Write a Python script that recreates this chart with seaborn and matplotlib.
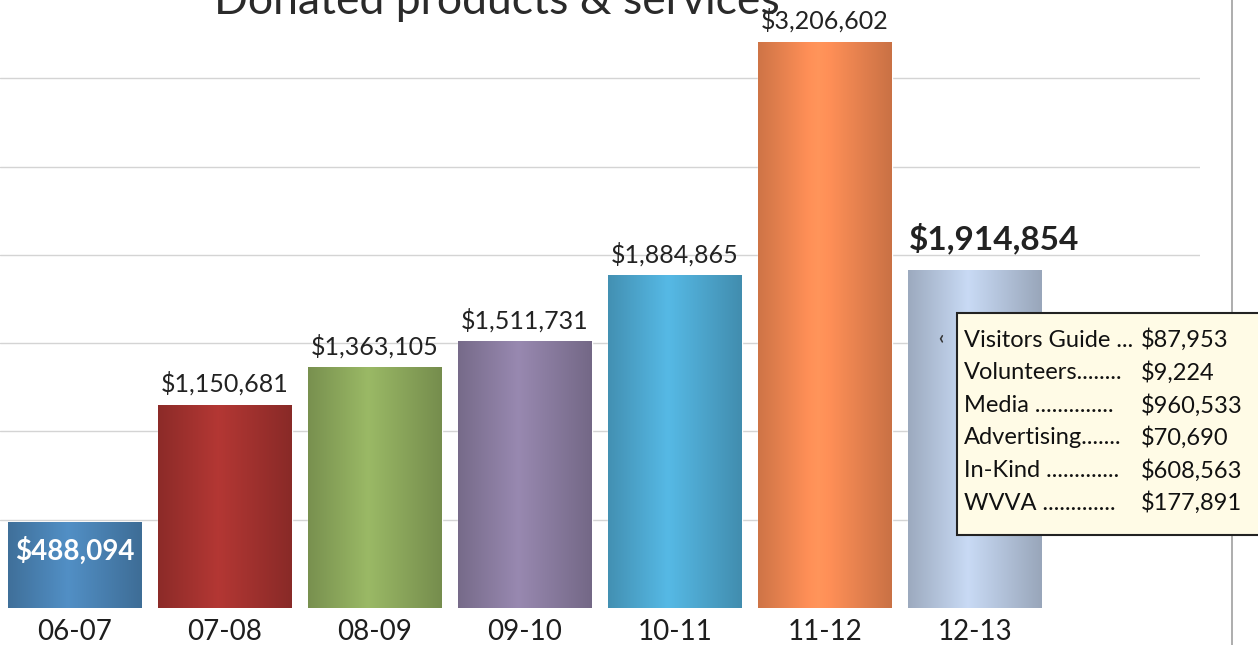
import numpy as np
import pandas as pd
import matplotlib
matplotlib.use("Agg")
import matplotlib.pyplot as plt
import matplotlib.colors as mcolors
import seaborn as sns

# ---- data ----
seasons = ["06-07", "07-08", "08-09", "09-10", "10-11", "11-12", "12-13"]
totals = [488094, 1150681, 1363105, 1511731, 1884865, 3206602, 1914854]
bar_colors = ["#4a82b3", "#a3322f", "#8ca85c", "#8a7ca0", "#4ea8d0", "#f08752", "#b6c6de"]
breakdown_labels = ["Visitors Guide ...", "Volunteers........", "Media ..............",
                    "Advertising.......", "In-Kind .............", "WVVA ............."]
breakdown_values = ["$87,953", "$9,224", "$960,533", "$70,690", "$608,563", "$177,891"]
title = "Donated products & services"

sns.set_theme(style="white")
plt.rcParams["font.family"] = ["Lato", "DejaVu Sans"]

df = pd.DataFrame({"season": seasons, "total": totals})

fig = plt.figure(figsize=(12.58, 6.45), dpi=100)
ax = fig.add_axes([0.0, 37 / 645, 1200 / 1258, 608 / 645])

sns.barplot(data=df, x="season", y="total", hue="season", palette=bar_colors,
            legend=False, width=0.89, saturation=1, ax=ax)

ax.set_ylim(0, 3.443e6)
ax.set_xlim(-0.5, 7.5)
ax.set_yticks(np.arange(500000, 3000001, 500000))
ax.yaxis.grid(True, color="#d4d4d4", linewidth=1.0)
ax.set_axisbelow(True)
ax.set_ylabel("")
ax.set_xlabel("")
ax.tick_params(axis="y", left=False, labelleft=False)
ax.tick_params(axis="x", bottom=False, labelsize=20, pad=2, labelcolor="#1e1e1e")
for s in ax.spines.values():
    s.set_visible(False)

# cylinder-like shading on bars
shade = np.concatenate([np.linspace(0.86, 1.10, 45), np.linspace(1.10, 0.84, 55)])
for patch, col in zip(ax.patches, bar_colors):
    rgb = np.array(mcolors.to_rgb(col))
    img = np.clip(shade[:, None] * rgb[None, :], 0, 1)[None, :, :]
    x0, y0 = patch.get_x(), patch.get_y()
    w, h = patch.get_width(), patch.get_height()
    im = ax.imshow(img, extent=[x0, x0 + w, y0, y0 + h], aspect="auto",
                   zorder=patch.get_zorder() + 0.1, interpolation="bilinear")
    im.set_clip_path(patch)

# value labels
for i, (patch, v) in enumerate(zip(ax.patches, totals)):
    cx = patch.get_x() + patch.get_width() / 2
    txt = f"${v:,}"
    if i == 0:
        ax.text(cx, v - 0.165e6, txt, ha="center", va="center", fontsize=20,
                fontweight="bold", color="white", zorder=5)
    elif i == len(totals) - 1:
        ax.text(cx + 0.13, v + 0.09e6, txt, ha="center", va="bottom", fontsize=24,
                fontweight="bold", color="#222222", zorder=5)
    else:
        ax.text(cx, v + 0.05e6, txt, ha="center", va="bottom", fontsize=18,
                color="#222222", zorder=5)

# page border line on the right
fig.add_artist(plt.Line2D([1232 / 1258, 1232 / 1258], [0, 1], color="#a0a0a0",
                          linewidth=1.2, transform=fig.transFigure))

# breakdown box
bx0, by0 = 957 / 1258, 1 - 535 / 645
bw, bh = (1265 - 957) / 1258, (535 - 313) / 645
fig.add_artist(matplotlib.patches.Rectangle((bx0, by0), bw, bh, transform=fig.transFigure,
                                            facecolor="#fffbe6", edgecolor="#222222",
                                            linewidth=1.5, zorder=10, clip_on=False))
for k, (lab, val) in enumerate(zip(breakdown_labels, breakdown_values)):
    y = 1 - (340 + 32.6 * k) / 645
    fig.text(964 / 1258, y, lab, ha="left", va="center", fontsize=17,
             color="#111111", zorder=11)
    fig.text(1141 / 1258, y, val, ha="left", va="center", fontsize=17,
             color="#111111", zorder=11)
fig.text(941 / 1258, 1 - 338 / 645, "‹", ha="center", va="center", fontsize=13,
         fontweight="bold", color="#333333", zorder=11)

# title (partially cut off at the top, as in the scan)
fig.text(497 / 1258, 1 - 14 / 645, title, ha="center", va="baseline",
         fontsize=32, color="#2a2a2a")

fig.savefig("out.png", dpi=100)
